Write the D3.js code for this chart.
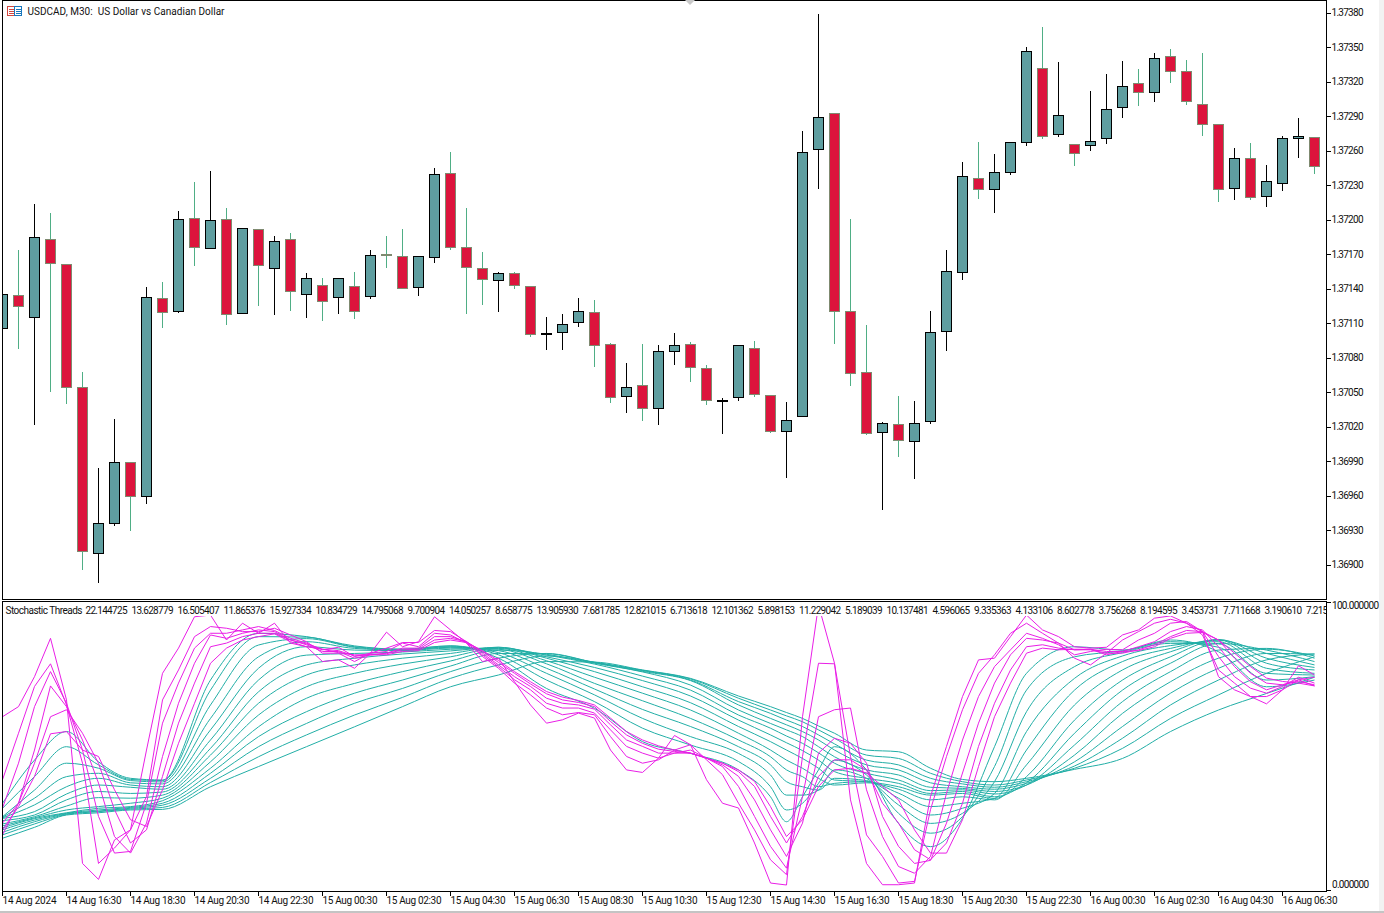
<!DOCTYPE html>
<html>
<head>
<meta charset="utf-8">
<title>USDCAD M30</title>
<script src="https://d3js.org/d3.v7.min.js"></script>
<style>
  html, body { margin: 0; padding: 0; background: #fff; }
  svg { display: block; }
  text { font-family: "Roboto", "Liberation Sans", sans-serif; font-size: 10px; fill: #111; white-space: pre; }
</style>
</head>
<body>
<svg id="terminal" width="1384" height="913"></svg>
<script>
// Half-hour USDCAD bars, one entry per candle, oldest first.
const opens = [
1.37105,1.37134,1.37115,1.37183,1.37161,1.37054,1.36910,1.36936,1.36989,1.36959,
1.37131,1.37120,1.37201,1.37175,1.37200,1.37118,1.37191,1.37157,1.37183,1.37135,
1.37143,1.37132,1.37142,1.37133,1.37170,1.37168,1.37141,1.37167,1.37240,1.37176,
1.37157,1.37147,1.37153,1.37142,1.37101,1.37102,1.37110,1.37119,1.37091,1.37046,
1.37056,1.37036,1.37085,1.37091,1.37070,1.37043,1.37045,1.37088,1.37047,1.37016,
1.37029,1.37261,1.37292,1.37120,1.37067,1.37015,1.37022,1.37007,1.37024,1.37103,
1.37154,1.37236,1.37226,1.37241,1.37267,1.37331,1.37274,1.37265,1.37264,1.37270,
1.37297,1.37318,1.37310,1.37342,1.37329,1.37300,1.37283,1.37227,1.37253,1.37220,
1.37231,1.37270,1.37271];
const highs = [
1.37138,1.37174,1.37214,1.37206,1.37161,1.37068,1.36984,1.37027,1.36990,1.37142,
1.37146,1.37208,1.37233,1.37243,1.37210,1.37193,1.37192,1.37186,1.37189,1.37154,
1.37150,1.37150,1.37155,1.37174,1.37186,1.37192,1.37169,1.37245,1.37259,1.37210,
1.37172,1.37155,1.37155,1.37143,1.37116,1.37118,1.37132,1.37130,1.37093,1.37076,
1.37092,1.37091,1.37102,1.37094,1.37074,1.37045,1.37090,1.37095,1.37048,1.37042,
1.37277,1.37379,1.37293,1.37201,1.37109,1.37024,1.37047,1.37043,1.37121,1.37174,
1.37250,1.37268,1.37257,1.37267,1.37350,1.37368,1.37337,1.37266,1.37312,1.37327,
1.37338,1.37331,1.37345,1.37349,1.37339,1.37345,1.37283,1.37263,1.37267,1.37248,
1.37273,1.37289,1.37271];
const lows = [
1.37091,1.37088,1.37022,1.37050,1.37040,1.36896,1.36884,1.36934,1.36930,1.36953,
1.37106,1.37119,1.37160,1.37175,1.37109,1.37118,1.37125,1.37117,1.37121,1.37115,
1.37112,1.37118,1.37114,1.37131,1.37158,1.37140,1.37134,1.37163,1.37174,1.37118,
1.37126,1.37120,1.37140,1.37098,1.37087,1.37087,1.37107,1.37072,1.37041,1.37032,
1.37025,1.37022,1.37074,1.37059,1.37039,1.37014,1.37043,1.37046,1.37015,1.36976,
1.37029,1.37227,1.37092,1.37056,1.37013,1.36948,1.36994,1.36975,1.37023,1.37086,
1.37148,1.37218,1.37206,1.37239,1.37264,1.37270,1.37272,1.37247,1.37260,1.37266,
1.37289,1.37299,1.37303,1.37319,1.37300,1.37273,1.37216,1.37217,1.37217,1.37211,
1.37225,1.37254,1.37240];
const closes = [
1.37135,1.37124,1.37184,1.37162,1.37054,1.36911,1.36936,1.36989,1.36959,1.37132,
1.37119,1.37200,1.37176,1.37199,1.37117,1.37192,1.37160,1.37181,1.37137,1.37149,
1.37129,1.37149,1.37120,1.37169,1.37169,1.37140,1.37168,1.37239,1.37176,1.37158,
1.37148,1.37153,1.37143,1.37100,1.37101,1.37109,1.37120,1.37090,1.37045,1.37054,
1.37036,1.37085,1.37090,1.37071,1.37043,1.37043,1.37090,1.37048,1.37016,1.37025,
1.37258,1.37289,1.37120,1.37066,1.37014,1.37023,1.37008,1.37023,1.37102,1.37155,
1.37237,1.37226,1.37241,1.37267,1.37346,1.37272,1.37290,1.37257,1.37268,1.37296,
1.37316,1.37310,1.37340,1.37329,1.37303,1.37283,1.37226,1.37253,1.37219,1.37233,
1.37270,1.37272,1.37246];

const priceTicks = [1.37380,1.37350,1.37320,1.37290,1.37260,1.37230,1.37200,1.37170,1.37140,1.37110,1.37080,1.37050,1.37020,1.36990,1.36960,1.36930,1.36900];

// Tick labels of the shared time axis, one every four bars.
const timeLabels = ["14 Aug 2024","14 Aug 16:30","14 Aug 18:30","14 Aug 20:30","14 Aug 22:30","15 Aug 00:30","15 Aug 02:30","15 Aug 04:30","15 Aug 06:30","15 Aug 08:30","15 Aug 10:30","15 Aug 12:30","15 Aug 14:30","15 Aug 16:30","15 Aug 18:30","15 Aug 20:30","15 Aug 22:30","16 Aug 00:30","16 Aug 02:30","16 Aug 04:30","16 Aug 06:30"];

const chartTitle = "USDCAD, M30:  US Dollar vs Canadian Dollar";
const threadsName = "Stochastic Threads";
const threadsReadout = ["22.144725","13.628779","16.505407","11.865376","15.927334","10.834729","14.795068","9.700904","14.050257","8.658775","13.905930","7.681785","12.821015","6.713618","12.101362","5.898153","11.229042","5.189039","10.137481","4.596065","9.335363","4.133106","8.602778","3.756268","8.194595","3.453731","7.711668","3.190610","7.2155"];

// Fast stochastic threads, fastest first, one value per bar.
const fastThreads = [
[60.1,63.7,74.4,88.1,66.1,7.7,2,16.1,19.7,48.2,
 75.6,84.6,95.8,96.4,87.5,93.5,89.9,93.5,86.4,85.1,
 79.8,80.4,77.4,82.8,90.3,85.1,86.9,95.8,91.1,86.4,
 79.8,81,72.6,64.3,57.8,59,61.4,59.6,48.2,41.1,
 40.2,45.3,53.4,50.1,37.6,29.2,27.5,15,0.7,0,
 60.1,100,79.2,30.4,7.7,0.1,0.1,0.7,31.6,49.5,
 67.3,80.4,81,88.7,96.4,91.1,88.7,85.1,84.6,84.9,
 89.3,91.1,95.3,96.1,93.5,90.5,74.4,69.7,67.3,64.7,
 69.7,78.3,75],
[37.6,54.2,70.9,79,64.3,43.5,7.7,13.2,19.7,31.6,
 66.1,76.8,88.7,92.3,91.7,90.5,90.5,91.7,89.3,86.9,
 82.8,82.8,79.8,82.8,84.6,86.6,86.6,90.9,90.5,86.9,
 81.6,77.4,72.1,67.9,63.2,60.8,61.6,60.8,53,45.9,
 43.5,44.7,48.2,50.1,44.7,39.4,29.2,19.7,9,3.7,
 45.9,79.2,79,45.9,17.9,10.2,0.7,1.3,26.9,45.9,
 62.6,75.6,82.2,89.9,93.5,89.9,86.4,81,78.6,82.8,
 87.5,90.5,93.5,94.9,93.5,89.3,76.8,72.1,67.3,67.3,
 69.7,73.3,74.2],
[27.5,43.5,63.7,76.2,64.9,48.2,24.5,11.4,12,29.2,
 57.8,72.1,84.6,89.9,89.9,91.1,92.3,90.9,88.1,86.4,
 84,84.9,81.6,82.8,83.4,86.4,85.1,89.9,89.3,86.4,
 82.2,78,73.3,69.7,64.9,63.2,63.2,61.4,55.4,49.5,
 47.1,45.3,47.1,48.2,45.3,42.3,35.2,24.5,13.8,6,
 31.6,60.1,62.6,63.2,34,17.3,6.6,4.2,10.2,32.8,
 51.8,67.3,78,84,89.9,88.1,85.8,82.2,83.4,84.2,
 84,87.5,89.9,93.5,94.1,90.5,81.6,74.4,70.3,68.5,
 70.9,74.2,72.1],
[17.9,29.2,48.2,71.1,63.7,51.8,36.4,17.3,11.4,22.1,
 45.9,64.9,79.2,89.3,88.1,89.9,91.1,90.5,87.5,85.8,
 83.4,83.4,81,82.2,82.8,84.6,84.6,88.7,88.7,86.9,
 82.8,78.6,74.4,70.9,66.7,64.9,64.3,62.8,57.2,51.8,
 49.5,47.1,47.1,47.1,45.3,42.9,38.8,30.4,19.7,10.2,
 22.1,47.1,52.4,50.6,43.5,24.5,13.8,7.7,8.8,22.1,
 40,57.8,72.1,82.2,88.1,87.5,86.4,84,84.2,82.2,
 83.4,85.1,86.9,90.5,92.3,91.1,85.1,78,72.6,69.7,
 71.5,73.3,71.1],
[22.1,29.2,43.5,60.1,62.6,54.2,43.5,26.9,15,19.7,
 38.8,57.8,72.1,85.1,86.4,88.7,89.9,89.9,87.5,86.1,
 84.2,83.7,81.8,82.2,82.6,84,84.2,87.5,88.1,86.9,
 83.4,79.5,75.6,71.8,68.3,66.1,65.2,63.7,58.4,53.6,
 50.6,48.5,47.7,47.1,45.3,43.5,40.5,35.2,24.5,15,
 24.5,38.8,44.7,44.7,41.1,29.2,22.1,12.6,9,15,
 29.2,49.5,64.9,76.8,85.1,85.8,84.6,84,84,82.8,
 82.8,84,85.8,88.7,90.9,90.5,87.5,81,75.6,72.1,
 71.5,72.7,71.5],
[19.7,28,38.8,54,54.8,48.2,45.9,34,23.3,20.9,
 34,50.6,64.9,79.2,84.6,87.5,88.7,89.7,86.9,85.1,
 84.2,83,82.2,82.2,82.2,83.4,83.7,86.6,87.5,86.6,
 83.7,80.2,76.2,72.6,69.1,67.1,65.9,64.3,59.6,54.8,
 51.8,49.7,48.2,47.1,45.3,43.5,41.1,37,28,17.3,
 23.3,35.2,41.1,41.7,40,35.2,30.4,19.7,11.4,11.4,
 23.3,42.3,60.1,72.1,82.8,84.6,84,84.2,84.2,83.4,
 83.4,83.7,85.1,88.1,89.9,90.2,87.5,82.8,78,73.9,
 72.7,72.1,71.1]
];

// Slow threads are smooth, so they are read at these bars only.
const slowBars = [0,2,4,6,8,10,13,16,19,22,25,28,31,34,37,40,43,46,48,49,50,51,52,54,56,58,60,62,64,67,70,73,76,79,82];

// One row per entry of slowBars, one column per slow thread.
const slowLevels = [
[29.2,27.4,24.4,24.2,24,23.8,23,21.8,21.1,20.4,19.7,18.8,17.9,16.7],
[44.6,38.7,33.9,31,28.6,26.2,25,24.4,24,23.7,23.2,22.6,21.8,20.6],
[54.8,49.4,43.5,38.7,35.1,32.5,30.4,28.2,26.8,25.8,25.6,25.4,25.2,25],
[44,42.9,41.7,39.9,38.1,35.7,33.4,31.2,28,27.4,26.8,26.4,26.2,25.8],
[38.1,37.7,37.3,36.5,35.7,34.9,32.7,31,29.2,28,27.7,27.4,27.1,26.8],
[37.5,37.3,36.8,36.1,35.1,34.2,33.2,32.1,31,30.1,29.2,28.5,27.7,27],
[73.2,69.6,64.3,59.5,55.4,51.8,48.8,46.4,44,41.7,39.9,38.1,36.6,35.1],
[89.9,88.7,85.7,81.5,77.4,73.2,69,64.9,60.7,56.5,53,49.4,45.8,42.3],
[88.7,88.5,88,86.9,85.1,82.1,78.6,75,70.8,66.7,61.9,57.7,53.6,49.4],
[85.4,85.1,84.9,84.5,83.9,82.7,81,78.6,75.6,72,68.5,64.9,60.7,56.5],
[84.2,84.2,83.9,83.9,83.7,83.2,82.5,81,78.9,76.2,73.2,70.2,67,63.7],
[85.4,85.4,85.1,84.9,84.6,84.2,83.6,82.7,81.5,80,78.2,76.2,73.8,70.8],
[81,82.2,83,83.7,84.2,84.5,84.9,84.9,84.6,83.9,82.7,81,78.6,75],
[70.2,73.2,75.6,77.4,79,80.1,81,81.5,82.1,82.4,82.6,82.7,81.8,79.8],
[63.1,65.5,67.9,70,72,74.2,76.2,77.7,78.9,79.2,79.4,79.5,79.6,79.6],
[51.2,56,59.5,62.7,65.8,68.5,70.8,73,74.6,76.1,76.3,76.6,76.7,76.8],
[47,50,53,56.6,59.5,62.5,65.1,67.5,69.6,71.4,73,73.2,73.6,73.8],
[41.1,44.1,47,49.4,51.8,54.2,56.6,58.9,60.7,62.5,64.3,65.5,66.7,67.5],
[31.5,35.1,39.3,42.9,45.8,48.2,51.2,53.6,56,57.7,59.5,61.3,62.5,63.7],
[22.6,26.8,32.1,36.9,41.1,44.6,48.2,50.8,53.2,55.4,57.2,58.9,60.4,61.6],
[31.5,29.2,32.1,35.1,38.7,41.7,45.2,48,50.6,53,54.8,56.6,58.3,59.5],
[41.1,36.3,33.9,33.9,35.1,38.1,41.7,44.6,47.2,49.4,51.8,53.6,55.4,56.8],
[49.4,44.6,41.1,38.1,36.3,35.7,37.5,40.5,43.5,45.8,48.2,50.4,52.4,54.2],
[41.1,39.3,38.1,37.3,36.9,36.5,36.9,38.1,39.9,41.1,42.9,44.6,46.4,48.2],
[22,25.6,28.6,31,32.8,34.2,35.1,36.3,37.5,39.3,41.1,42.9,45.2,47.6],
[13.7,18.5,22,25,28,30.4,32.1,32.7,33.7,34.9,36.5,38.1,39.9,41.7],
[23.8,24.4,25.6,27.4,29.2,31.5,32.7,33.4,34,34.5,35.1,36.1,36.9,37.7],
[49.4,42.3,36.9,32.7,30.9,30.4,30.9,31.5,32.5,33.4,34.2,34.9,35.7,36.9],
[75.6,69.6,61.9,54.8,48.2,42.9,38.7,36.5,35.7,35.7,36.3,36.9,37.5,38.1],
[85.1,81.5,78,73.8,69.6,64.3,58.9,54.2,50,46.4,44,42.5,41.7,41.3],
[83.9,83.6,83,81.8,79.8,76.8,73.2,69.6,65.5,61.3,56.6,52.4,48.8,45.2],
[87.5,86.9,86.3,85.5,84.5,83.3,81.5,79.2,76.2,72.6,68.5,64.3,59.5,54.8],
[83.3,84.9,86.1,86.9,87.5,87.7,87.5,86.3,83.9,81,77.4,73.2,67.9,62.5],
[70.8,73.2,75.6,77.4,79.2,81,82.7,83.9,84.5,84.2,82.7,80.4,75.6,68.4],
[73.2,74.4,75,75.6,76.8,77.7,78.6,79.8,81,81.8,82.5,82.5,81.5,74.2]
];

const bullFill = "#5f9ea0", bearFill = "#dc143c";
const bullEdge = "#000000", bearEdge = "#7f8a70", bearWick = "#4fae85";
const fastColor = "#e91fe6", slowColor = "#22aea6";

const svg = d3.select("#terminal");
const paneLeft = 2.5, paneRight = 1326.5;
const mainBottom = 599.5, subTop = 601.5, subBottom = 891.5;

const x = d3.scaleLinear().domain([0, 82]).range([2.5, 1314.5]);
const yPrice = d3.scaleLinear().domain([1.36900, 1.37380]).range([564.5, 12.5]);
const yThread = d3.scaleLinear().domain([0, 100]).range([885, 605]);
const snap = v => Math.round(v - 0.5) + 0.5;

const defs = svg.append("defs");
defs.append("clipPath").attr("id", "clipMain").append("rect")
  .attr("x", paneLeft).attr("y", 0).attr("width", paneRight - paneLeft).attr("height", mainBottom);
defs.append("clipPath").attr("id", "clipSub").append("rect")
  .attr("x", paneLeft).attr("y", subTop).attr("width", paneRight - paneLeft).attr("height", subBottom - subTop);

// Window chrome around the chart.
svg.append("rect").attr("x", 0).attr("y", 911).attr("width", 1384).attr("height", 2).attr("fill", "#c4c4c4");
svg.append("rect").attr("x", 1379).attr("y", 0).attr("width", 5).attr("height", 911).attr("fill", "#f2f2f2");

// Candles.
const candles = opens.map((o, i) => ({ i, o, h: highs[i], l: lows[i], c: closes[i], bull: closes[i] >= o }));
const main = svg.append("g").attr("clip-path", "url(#clipMain)");
const candle = main.selectAll("g.candle").data(candles).join("g").attr("class", "candle");
candle.append("line")
  .attr("x1", d => x(d.i)).attr("x2", d => x(d.i))
  .attr("y1", d => snap(yPrice(d.h))).attr("y2", d => snap(yPrice(d.l)))
  .attr("stroke", d => d.bull ? bullEdge : bearWick)
  .attr("stroke-width", 1).attr("shape-rendering", "crispEdges");
candle.append("rect")
  .attr("x", d => x(d.i) - 5).attr("width", 10)
  .attr("y", d => snap(yPrice(Math.max(d.o, d.c))))
  .attr("height", d => Math.max(1, snap(yPrice(Math.min(d.o, d.c))) - snap(yPrice(Math.max(d.o, d.c)))))
  .attr("fill", d => d.bull ? bullFill : bearFill)
  .attr("stroke", d => d.bull ? bullEdge : bearEdge)
  .attr("stroke-width", 1).attr("shape-rendering", "crispEdges");

// Threads pane: slow threads first, fast ones on top.
const sub = svg.append("g").attr("clip-path", "url(#clipSub)");
const slowLine = d3.line().x((d, i) => x(slowBars[i])).y(d => yThread(d)).curve(d3.curveMonotoneX);
const fastLine = d3.line().x((d, i) => x(i)).y(d => yThread(d));
sub.selectAll("path.slow").data(d3.transpose(slowLevels)).join("path").attr("class", "slow")
  .attr("d", slowLine).attr("fill", "none").attr("stroke", slowColor).attr("stroke-width", 1);
sub.selectAll("path.fast").data(fastThreads).join("path").attr("class", "fast")
  .attr("d", fastLine).attr("fill", "none").attr("stroke", fastColor).attr("stroke-width", 1);

// Caption strip covers whatever runs up behind it; readouts sit on a fixed advance.
sub.append("rect").attr("x", paneLeft).attr("y", subTop).attr("width", paneRight - paneLeft).attr("height", 14.5).attr("fill", "#fff");
sub.append("text").attr("x", 5.5).attr("y", 614).attr("textLength", 77).attr("lengthAdjust", "spacing").text(threadsName);
let readoutX = 85.5;
threadsReadout.forEach(v => {
  const width = v.length === 9 ? 42 : v.length === 8 ? 37.5 : 27;
  sub.append("text").attr("x", readoutX).attr("y", 614)
    .attr("textLength", width).attr("lengthAdjust", "spacing").text(v);
  readoutX += width + 4;
});

// Frames.
const frame = svg.append("g").attr("fill", "none").attr("stroke", "#000").attr("stroke-width", 1).attr("shape-rendering", "crispEdges");
frame.append("rect").attr("x", paneLeft).attr("y", 0.5).attr("width", paneRight - paneLeft).attr("height", mainBottom - 0.5);
frame.append("rect").attr("x", paneLeft).attr("y", subTop).attr("width", paneRight - paneLeft).attr("height", subBottom - subTop);

// Small scroll marker on the top edge.
svg.append("path").attr("d", "M685,0 L695,0 L690,5 Z").attr("fill", "#c8c8c8");

// Price axis.
const axisPrice = d3.axisRight(yPrice).tickValues(priceTicks).tickSize(4).tickPadding(1).tickFormat(d3.format(".5f"));
const gp = svg.append("g").attr("transform", `translate(${paneRight},0)`).call(axisPrice);
gp.select(".domain").remove();
gp.selectAll("text").attr("textLength", 32).attr("lengthAdjust", "spacing")
  .style("font-family", '"Roboto", sans-serif').style("font-size", "10px").attr("fill", "#111");
gp.selectAll("line").attr("stroke", "#000").attr("shape-rendering", "crispEdges");

// Threads axis: fixed 0 to 100 range, labelled at the two ends.
const threadEnds = [{ label: "100.000000", tick: 602, text: 606, len: 47 }, { label: "0.000000", tick: 890, text: 885, len: 37 }];
svg.selectAll("line.endTick").data(threadEnds).join("line").attr("class", "endTick")
  .attr("x1", paneRight).attr("x2", paneRight + 4).attr("y1", d => d.tick + 0.5).attr("y2", d => d.tick + 0.5)
  .attr("stroke", "#000").attr("shape-rendering", "crispEdges");
svg.selectAll("text.endLabel").data(threadEnds).join("text").attr("class", "endLabel")
  .attr("x", 1332).attr("y", d => d.text).attr("dy", "0.34em")
  .attr("textLength", d => d.len).attr("lengthAdjust", "spacing").text(d => d.label);

// Time axis.
const timeBars = timeLabels.map((_, k) => k * 4);
const gt = svg.selectAll("g.timeTick").data(timeBars).join("g").attr("class", "timeTick")
  .attr("transform", d => `translate(${x(d)},${subBottom})`);
gt.append("line").attr("y2", 4).attr("stroke", "#000").attr("shape-rendering", "crispEdges");
gt.append("text").attr("x", 0).attr("y", 12)
  .attr("textLength", (d, i) => i === 0 ? 54 : 55).attr("lengthAdjust", "spacing")
  .text((d, i) => timeLabels[i]);

// Chart title with its little symbol icon.
const icon = svg.append("g").attr("shape-rendering", "crispEdges");
[{ x: 7.5, c: "#d4473f" }, { x: 14.5, c: "#1877bd" }].forEach(b => {
  icon.append("rect").attr("x", b.x).attr("y", 6.5).attr("width", 7).attr("height", 9).attr("fill", "#fff").attr("stroke", b.c);
  [9, 11, 13].forEach(yy => icon.append("line").attr("x1", b.x + 1).attr("x2", b.x + 6).attr("y1", yy + 0.5).attr("y2", yy + 0.5).attr("stroke", b.c));
});
svg.append("text").attr("x", 27.5).attr("y", 15).attr("textLength", 197).attr("lengthAdjust", "spacing").text(chartTitle);
</script>
</body>
</html>
